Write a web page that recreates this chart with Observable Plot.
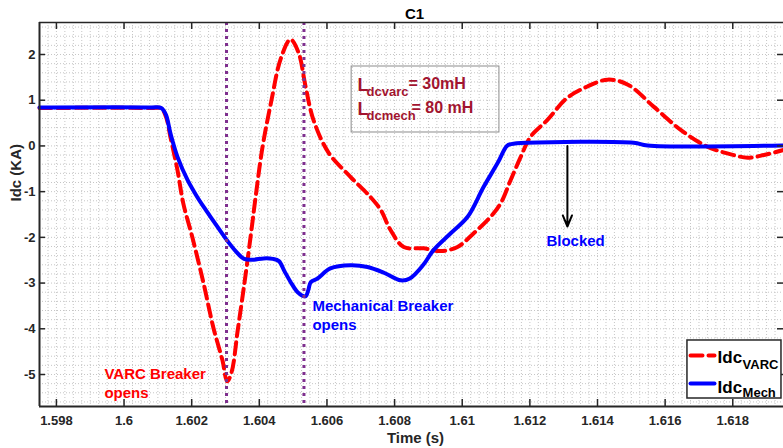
<!DOCTYPE html>
<html><head><meta charset="utf-8">
<script src="https://cdn.jsdelivr.net/npm/d3@7"></script>
<script src="https://cdn.jsdelivr.net/npm/@observablehq/plot@0.6"></script>
<style>body{margin:0;background:#fff}#chart{width:783px;height:448px}</style>
</head><body><div id="chart"></div>
<script>
// ---- data ----
const tMech = [1.5975,1.6008,1.6011,1.60124,1.60137,1.60158,1.60188,1.60215,1.60235,1.60265,1.603,1.6033,1.60355,1.6038,1.60413,1.6044,1.60458,1.60475,1.60492,1.60513,1.60528,1.60537,1.60545,1.60552,1.60572,1.6061,1.6067,1.6072,1.6077,1.60818,1.60845,1.60885,1.60915,1.60966,1.61016,1.61063,1.61105,1.61132,1.61145,1.61193,1.61507,1.61548,1.6195];
const iMech = [0.84,0.84,0.83,0.68,0.28,-0.24,-0.75,-1.1,-1.33,-1.65,-2.02,-2.3,-2.47,-2.49,-2.46,-2.47,-2.52,-2.75,-2.97,-3.2,-3.28,-3.29,-3.15,-2.98,-2.9,-2.68,-2.61,-2.65,-2.78,-2.94,-2.9,-2.6,-2.28,-1.91,-1.55,-0.9,-0.37,0.0,0.04,0.07,0.07,0.01,0.01];
const tVarc = [1.5975,1.6008,1.6011,1.60124,1.60137,1.60158,1.60175,1.60202,1.60235,1.60264,1.60291,1.60305,1.60318,1.60336,1.60356,1.60374,1.60389,1.6041,1.60436,1.60463,1.60492,1.60516,1.60537,1.6056,1.60605,1.6067,1.60729,1.60759,1.60788,1.60827,1.60886,1.60936,1.60986,1.61034,1.61084,1.61114,1.61143,1.61173,1.61202,1.61252,1.6131,1.6137,1.6143,1.6149,1.61566,1.61646,1.61726,1.61803,1.61844,1.61892,1.6195];
const iVarc = [0.83,0.83,0.82,0.64,0.2,-0.53,-1.25,-2.0,-3.0,-3.97,-4.69,-5.15,-4.95,-4.04,-3.0,-2.0,-1.12,0.0,1.0,1.9,2.33,2.04,1.29,0.57,-0.15,-0.68,-1.12,-1.4,-1.84,-2.21,-2.24,-2.3,-2.21,-1.91,-1.55,-1.25,-0.75,-0.24,0.2,0.57,1.05,1.3,1.45,1.34,0.86,0.35,-0.02,-0.2,-0.26,-0.2,-0.09];
const breakerTimes = [1.60303, 1.60532];
const xTicks = [1.598,1.6,1.602,1.604,1.606,1.608,1.61,1.612,1.614,1.616,1.618];
const yTicks = [-5,-4,-3,-2,-1,0,1,2];
const xTickLabels = ["1.598","1.6","1.602","1.604","1.606","1.608","1.61","1.612","1.614","1.616","1.618"];
const seriesNames = ["VARC","Mech"];

// ---- layout ----
const W = 783, H = 448, mL = 39, mR = 0, mT = 22, mB = 42;
const xDom = [1.5975, 1.6195], yDom = [-5.7, 2.7];
const dpx = (xDom[1]-xDom[0])/(W-mL-mR);
const dpy = (yDom[1]-yDom[0])/(H-mT-mB);
const FONT = "Liberation Sans, Arial, Helvetica, sans-serif";
const DARK = "#262626", RED = "#ff0000", BLUE = "#0000ff", PURPLE = "#7E2F8E", MAROON = "#A2142F";

const mech = tMech.map((t,i)=>({t, v:iMech[i]}));
const varc = tVarc.map((t,i)=>({t, v:iVarc[i]}));
const gridX = d3.range(1, 88).map(i => xDom[0] + i*0.00025);
const gridY = d3.range(-28, 14).map(i => i*0.2);

// annotation anchors (data units)
const ann = {
  box: {t1:1.60673, t2:1.6111, v1:0.294, v2:1.7375},
  l1: {tL:1.6069, vL:1.2125, tS:1.60717, vS:1.103, tE:1.60841, vE:1.256},
  l2: {tL:1.6069, vL:0.6875, tS:1.60717, vS:0.578, tE:1.6085, vE:0.731},
  leg: {t1:1.61666, t2:1.61944, v1:-5.525, v2:-4.256, s1:1.61675, s2:1.61746, r1:-4.584, r2:-5.197,
        tI:1.61755, tSub:1.61829, b1:-4.759, sb1:-4.869, b2:-5.394, sb2:-5.503},
  varcTxt: {t:1.59942, v:-5.164},
  mechTxt: {t:1.60557, v:-3.677},
  blocked: {t:1.61249, v:-2.091},
  arrow: {t:1.61311, v1:0, v2:-1.7625}
};

const txt = (s, o) => Plot.text([s], {text: d=>d, fontFamily: FONT, fontWeight: "bold", ...o});

const chart = Plot.plot({
  width: W, height: H,
  marginLeft: mL, marginRight: mR, marginTop: mT, marginBottom: mB,
  x: {domain: xDom},
  y: {domain: yDom},
  style: {fontFamily: FONT, fontWeight: "bold", fontSize: "13px", color: DARK, background: "#fff", overflow: "visible"},
  marks: [
    // minor/major dotted grid
    Plot.ruleX(gridX, {x: d=>d, stroke: "#c6c6c6", strokeWidth: 1, strokeDasharray: "1,2"}),
    Plot.ruleY(gridY, {y: d=>d, stroke: "#c6c6c6", strokeWidth: 1, strokeDasharray: "1,2"}),
    // series
    Plot.line(varc, {x: "t", y: "v", stroke: RED, strokeWidth: 4, strokeDasharray: "12,6", curve: "catmull-rom"}),
    Plot.line(mech, {x: "t", y: "v", stroke: BLUE, strokeWidth: 4, curve: "catmull-rom"}),
    // breaker opening markers
    Plot.ruleX(breakerTimes, {x: d=>d, stroke: PURPLE, strokeWidth: 3, strokeDasharray: "3,4"}),
    // axes box
    Plot.ruleY([yDom[0]], {stroke: DARK, strokeWidth: 2}),
    Plot.ruleY([yDom[1]], {stroke: DARK, strokeWidth: 1.5}),
    Plot.ruleX([xDom[0]], {stroke: DARK, strokeWidth: 2}),
    // inward ticks
    Plot.ruleX(xTicks, {x: d=>d, y1: yDom[0], y2: yDom[0]+7*dpy, stroke: DARK, strokeWidth: 1.5}),
    Plot.ruleX(xTicks, {x: d=>d, y1: yDom[1]-7*dpy, y2: yDom[1], stroke: DARK, strokeWidth: 1.5}),
    Plot.ruleY(yTicks, {y: d=>d, x1: xDom[0], x2: xDom[0]+6*dpx, stroke: DARK, strokeWidth: 1.5}),
    Plot.ruleY(yTicks, {y: d=>d, x1: xDom[1]-6*dpx, x2: xDom[1], stroke: DARK, strokeWidth: 1.5}),
    Plot.axisX(xTicks, {tickSize: 0, tickPadding: 9, tickFormat: (d,i)=>xTickLabels[i], label: null, fontSize: 13, fill: DARK}),
    Plot.axisY(yTicks, {tickSize: 0, tickPadding: 4, tickFormat: d=>String(d), label: null, fontSize: 13, fill: DARK}),
    // titles
    txt("C1", {frameAnchor: "top", lineAnchor: "bottom", dx: 3, dy: -4, fontSize: 15, fill: "#000"}),
    txt("Time (s)", {frameAnchor: "bottom", lineAnchor: "bottom", dx: 4, dy: 36, fontSize: 15, fill: DARK}),
    txt("Idc (KA)", {frameAnchor: "left", lineAnchor: "bottom", rotate: -90, dx: -19, dy: -13, fontSize: 15, fill: DARK}),
    // event annotations
    Plot.text([ann.varcTxt], {x: "t", y: "v", text: ()=>"VARC Breaker\nopens", textAnchor: "start", lineAnchor: "middle", lineHeight: 1.27, fontSize: 15, fontWeight: "bold", fill: RED}),
    Plot.text([ann.mechTxt], {x: "t", y: "v", text: ()=>"Mechanical Breaker\nopens", textAnchor: "start", lineAnchor: "middle", lineHeight: 1.27, fontSize: 15, fontWeight: "bold", fill: BLUE}),
    Plot.text([ann.blocked], {x: "t", y: "v", text: ()=>"Blocked", textAnchor: "start", lineAnchor: "middle", fontSize: 15, fontWeight: "bold", fill: BLUE}),
    Plot.arrow([ann.arrow], {x: "t", y1: "v1", y2: "v2", stroke: "#000", strokeWidth: 2, headLength: 9, headAngle: 45}),
    // inductance box
    Plot.rect([ann.box], {x1: "t1", x2: "t2", y1: "v1", y2: "v2", fill: "none", stroke: "#8c8c8c", strokeWidth: 1}),
    Plot.text([ann.l1], {x: "tL", y: "vL", text: ()=>"L", textAnchor: "start", lineAnchor: "bottom", fontSize: 18, fontWeight: "bold", fill: MAROON}),
    Plot.text([ann.l1], {x: "tS", y: "vS", text: ()=>"dcvarc", textAnchor: "start", lineAnchor: "bottom", fontSize: 13, fontWeight: "bold", fill: MAROON}),
    Plot.text([ann.l1], {x: "tE", y: "vE", text: ()=>"= 30mH", textAnchor: "start", lineAnchor: "bottom", fontSize: 16, fontWeight: "bold", fill: MAROON}),
    Plot.text([ann.l2], {x: "tL", y: "vL", text: ()=>"L", textAnchor: "start", lineAnchor: "bottom", fontSize: 18, fontWeight: "bold", fill: MAROON}),
    Plot.text([ann.l2], {x: "tS", y: "vS", text: ()=>"dcmech", textAnchor: "start", lineAnchor: "bottom", fontSize: 13, fontWeight: "bold", fill: MAROON}),
    Plot.text([ann.l2], {x: "tE", y: "vE", text: ()=>"= 80 mH", textAnchor: "start", lineAnchor: "bottom", fontSize: 16, fontWeight: "bold", fill: MAROON}),
    // legend
    Plot.rect([ann.leg], {x1: "t1", x2: "t2", y1: "v1", y2: "v2", fill: "#fff", stroke: DARK, strokeWidth: 1.5}),
    Plot.line([{t: ann.leg.s1, v: ann.leg.r1}, {t: ann.leg.s2, v: ann.leg.r1}], {x: "t", y: "v", stroke: RED, strokeWidth: 4, strokeDasharray: "12,6"}),
    Plot.line([{t: ann.leg.s1, v: ann.leg.r2}, {t: ann.leg.s2, v: ann.leg.r2}], {x: "t", y: "v", stroke: BLUE, strokeWidth: 4}),
    Plot.text([ann.leg], {x: "tI", y: "b1", text: ()=>"Idc", textAnchor: "start", lineAnchor: "bottom", fontSize: 17, fontWeight: "bold", fill: "#000"}),
    Plot.text([ann.leg], {x: "tSub", y: "sb1", text: ()=>seriesNames[0], textAnchor: "start", lineAnchor: "bottom", fontSize: 13, fontWeight: "bold", fill: "#000"}),
    Plot.text([ann.leg], {x: "tI", y: "b2", text: ()=>"Idc", textAnchor: "start", lineAnchor: "bottom", fontSize: 17, fontWeight: "bold", fill: "#000"}),
    Plot.text([ann.leg], {x: "tSub", y: "sb2", text: ()=>seriesNames[1], textAnchor: "start", lineAnchor: "bottom", fontSize: 13, fontWeight: "bold", fill: "#000"})
  ]
});
document.getElementById("chart").append(chart);
</script>
</body></html>
